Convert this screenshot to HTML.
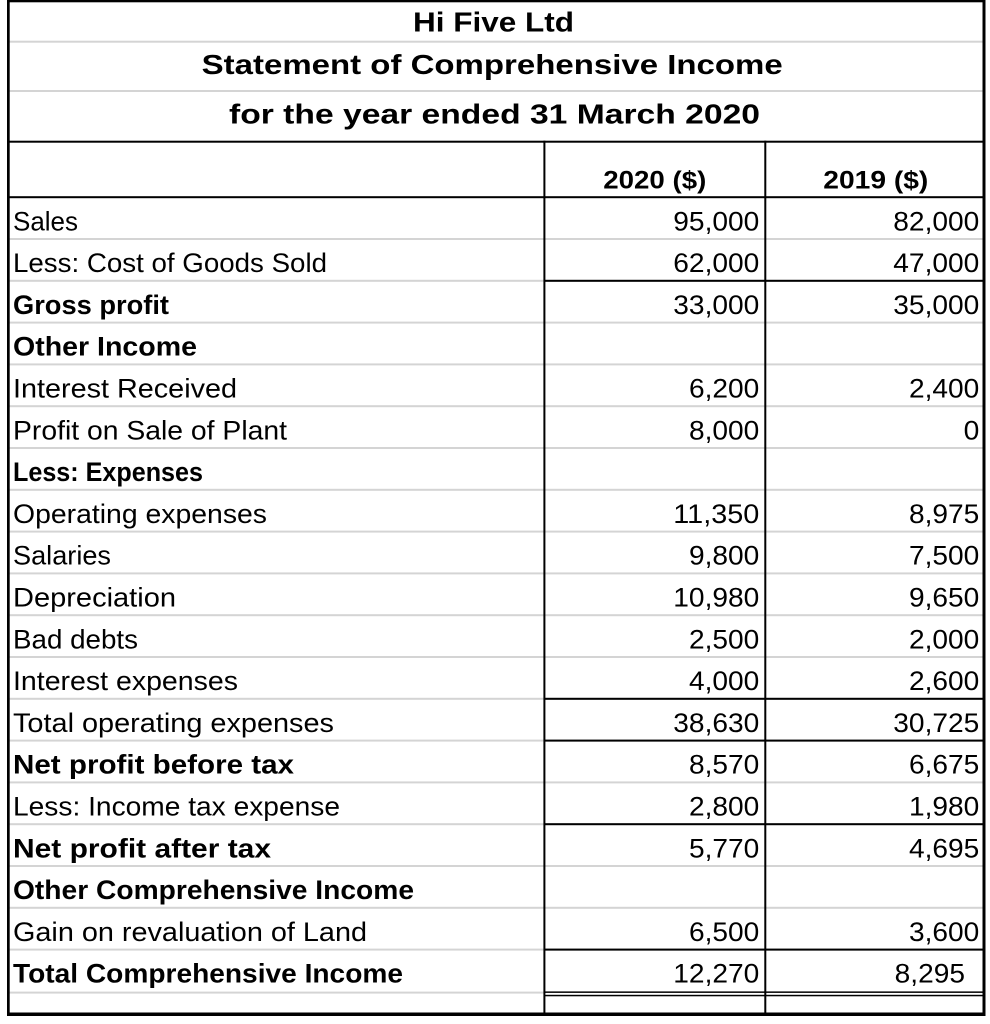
<!DOCTYPE html>
<html>
<head>
<meta charset="utf-8">
<style>
  html,body{margin:0;padding:0;background:#fff;}
  svg{display:block;}
  text{font-family:"Liberation Sans",Arial,sans-serif;fill:#000;}
  .r{font-size:26.5px;}
  .b{font-size:26.5px;font-weight:bold;}
  .t{font-size:28px;font-weight:bold;}
  .h{font-size:25px;font-weight:bold;}
</style>
</head>
<body>
<svg width="990" height="1024" viewBox="0 0 990 1024" xmlns="http://www.w3.org/2000/svg">
  <rect x="0" y="0" width="990" height="1024" fill="#fff"/>

  <!-- title gray gridlines -->
  <rect x="9" y="40.7" width="974" height="2" fill="#d4d4d4"/>
  <rect x="9" y="90" width="974" height="2" fill="#d4d4d4"/>

  <!-- row gray gridlines (k=1..18), y = 197.2 + 41.8k -->
  <g fill="#d4d4d4">
    <rect x="9" y="238.0" width="974" height="2"/>
    <rect x="9" y="279.8" width="974" height="2"/>
    <rect x="9" y="321.6" width="974" height="2"/>
    <rect x="9" y="363.4" width="974" height="2"/>
    <rect x="9" y="405.2" width="974" height="2"/>
    <rect x="9" y="447.0" width="974" height="2"/>
    <rect x="9" y="488.8" width="974" height="2"/>
    <rect x="9" y="530.6" width="974" height="2"/>
    <rect x="9" y="572.4" width="974" height="2"/>
    <rect x="9" y="614.2" width="974" height="2"/>
    <rect x="9" y="656.0" width="974" height="2"/>
    <rect x="9" y="697.8" width="974" height="2"/>
    <rect x="9" y="739.6" width="974" height="2"/>
    <rect x="9" y="781.4" width="974" height="2"/>
    <rect x="9" y="823.2" width="974" height="2"/>
    <rect x="9" y="865.0" width="974" height="2"/>
    <rect x="9" y="906.8" width="974" height="2"/>
    <rect x="9" y="948.6" width="974" height="2"/>
    <rect x="9" y="991.6" width="536" height="2"/>
  </g>

  <!-- black full-width lines -->
  <rect x="8" y="140.7" width="976" height="2" fill="#000"/>
  <rect x="8" y="196.2" width="976" height="2" fill="#000"/>

  <!-- black lines in number columns -->
  <g fill="#000">
    <rect x="544" y="279.8" width="440" height="2"/>
    <rect x="544" y="697.8" width="440" height="2"/>
    <rect x="544" y="739.6" width="440" height="2"/>
    <rect x="544" y="823.2" width="440" height="2"/>
    <rect x="544" y="948.6" width="440" height="2"/>
    <rect x="544" y="991.4" width="440" height="1.5"/>
    <rect x="544" y="994.8" width="440" height="1.5"/>
  </g>

  <!-- vertical column lines -->
  <rect x="543.4" y="140.7" width="2" height="875" fill="#000"/>
  <rect x="764.3" y="140.7" width="2" height="875" fill="#000"/>

  <!-- outer border -->
  <rect x="7" y="0" width="2.7" height="1016" fill="#000"/>
  <rect x="982.5" y="0" width="3" height="1016" fill="#000"/>
  <rect x="7" y="0" width="978.5" height="2.3" fill="#000"/>
  <rect x="7" y="1012.5" width="978.5" height="3.5" fill="#000"/>

  <!-- titles -->
  <text class="t" x="413" y="31.7" textLength="161" lengthAdjust="spacingAndGlyphs">Hi Five Ltd</text>
  <text class="t" x="201.7" y="74" textLength="581" lengthAdjust="spacingAndGlyphs">Statement of Comprehensive Income</text>
  <text class="t" x="229" y="123.5" textLength="531" lengthAdjust="spacingAndGlyphs">for the year ended 31 March 2020</text>

  <!-- header -->
  <text class="h" x="603.3" y="188.3" textLength="103" lengthAdjust="spacingAndGlyphs">2020 ($)</text>
  <text class="h" x="823.3" y="188.3" textLength="105" lengthAdjust="spacingAndGlyphs">2019 ($)</text>

  <!-- labels: baseline = 230.3 + 41.8k -->
  <text class="r" x="13" y="230.3" textLength="65" lengthAdjust="spacingAndGlyphs">Sales</text>
  <text class="r" x="13" y="272.1" textLength="314" lengthAdjust="spacingAndGlyphs">Less: Cost of Goods Sold</text>
  <text class="b" x="13" y="313.9" textLength="156" lengthAdjust="spacingAndGlyphs">Gross profit</text>
  <text class="b" x="13" y="355.7" textLength="184" lengthAdjust="spacingAndGlyphs">Other Income</text>
  <text class="r" x="13" y="397.5" textLength="224" lengthAdjust="spacingAndGlyphs">Interest Received</text>
  <text class="r" x="13" y="439.3" textLength="274" lengthAdjust="spacingAndGlyphs">Profit on Sale of Plant</text>
  <text class="b" x="13" y="481.1" textLength="190" lengthAdjust="spacingAndGlyphs">Less: Expenses</text>
  <text class="r" x="13" y="522.9" textLength="254" lengthAdjust="spacingAndGlyphs">Operating expenses</text>
  <text class="r" x="13" y="564.7" textLength="98" lengthAdjust="spacingAndGlyphs">Salaries</text>
  <text class="r" x="13" y="606.5" textLength="163" lengthAdjust="spacingAndGlyphs">Depreciation</text>
  <text class="r" x="13" y="648.3" textLength="125" lengthAdjust="spacingAndGlyphs">Bad debts</text>
  <text class="r" x="13" y="690.1" textLength="225" lengthAdjust="spacingAndGlyphs">Interest expenses</text>
  <text class="r" x="13" y="731.9" textLength="321" lengthAdjust="spacingAndGlyphs">Total operating expenses</text>
  <text class="b" x="13" y="773.7" textLength="281" lengthAdjust="spacingAndGlyphs">Net profit before tax</text>
  <text class="r" x="13" y="815.5" textLength="327" lengthAdjust="spacingAndGlyphs">Less: Income tax expense</text>
  <text class="b" x="13" y="857.3" textLength="258" lengthAdjust="spacingAndGlyphs">Net profit after tax</text>
  <text class="b" x="13" y="899.1" textLength="401" lengthAdjust="spacingAndGlyphs">Other Comprehensive Income</text>
  <text class="r" x="13" y="940.9" textLength="354" lengthAdjust="spacingAndGlyphs">Gain on revaluation of Land</text>
  <text class="b" x="13" y="982.7" textLength="390" lengthAdjust="spacingAndGlyphs">Total Comprehensive Income</text>

  <!-- 2020 column (right edge 759.3) -->
  <text class="r" x="673.3" y="230.3" textLength="86" lengthAdjust="spacingAndGlyphs">95,000</text>
  <text class="r" x="673.3" y="272.1" textLength="86" lengthAdjust="spacingAndGlyphs">62,000</text>
  <text class="r" x="673.3" y="313.9" textLength="86" lengthAdjust="spacingAndGlyphs">33,000</text>
  <text class="r" x="689" y="397.5" textLength="70.3" lengthAdjust="spacingAndGlyphs">6,200</text>
  <text class="r" x="689" y="439.3" textLength="70.3" lengthAdjust="spacingAndGlyphs">8,000</text>
  <text class="r" x="673.3" y="522.9" textLength="86" lengthAdjust="spacingAndGlyphs">11,350</text>
  <text class="r" x="689" y="564.7" textLength="70.3" lengthAdjust="spacingAndGlyphs">9,800</text>
  <text class="r" x="673.3" y="606.5" textLength="86" lengthAdjust="spacingAndGlyphs">10,980</text>
  <text class="r" x="689" y="648.3" textLength="70.3" lengthAdjust="spacingAndGlyphs">2,500</text>
  <text class="r" x="689" y="690.1" textLength="70.3" lengthAdjust="spacingAndGlyphs">4,000</text>
  <text class="r" x="673.3" y="731.9" textLength="86" lengthAdjust="spacingAndGlyphs">38,630</text>
  <text class="r" x="689" y="773.7" textLength="70.3" lengthAdjust="spacingAndGlyphs">8,570</text>
  <text class="r" x="689" y="815.5" textLength="70.3" lengthAdjust="spacingAndGlyphs">2,800</text>
  <text class="r" x="689" y="857.3" textLength="70.3" lengthAdjust="spacingAndGlyphs">5,770</text>
  <text class="r" x="689" y="940.9" textLength="70.3" lengthAdjust="spacingAndGlyphs">6,500</text>
  <text class="r" x="673.3" y="982.7" textLength="86" lengthAdjust="spacingAndGlyphs">12,270</text>

  <!-- 2019 column (right edge 979.3) -->
  <text class="r" x="893.3" y="230.3" textLength="86" lengthAdjust="spacingAndGlyphs">82,000</text>
  <text class="r" x="893.3" y="272.1" textLength="86" lengthAdjust="spacingAndGlyphs">47,000</text>
  <text class="r" x="893.3" y="313.9" textLength="86" lengthAdjust="spacingAndGlyphs">35,000</text>
  <text class="r" x="909" y="397.5" textLength="70.3" lengthAdjust="spacingAndGlyphs">2,400</text>
  <text class="r" x="963.6" y="439.3" textLength="15.7" lengthAdjust="spacingAndGlyphs">0</text>
  <text class="r" x="909" y="522.9" textLength="70.3" lengthAdjust="spacingAndGlyphs">8,975</text>
  <text class="r" x="909" y="564.7" textLength="70.3" lengthAdjust="spacingAndGlyphs">7,500</text>
  <text class="r" x="909" y="606.5" textLength="70.3" lengthAdjust="spacingAndGlyphs">9,650</text>
  <text class="r" x="909" y="648.3" textLength="70.3" lengthAdjust="spacingAndGlyphs">2,000</text>
  <text class="r" x="909" y="690.1" textLength="70.3" lengthAdjust="spacingAndGlyphs">2,600</text>
  <text class="r" x="893.3" y="731.9" textLength="86" lengthAdjust="spacingAndGlyphs">30,725</text>
  <text class="r" x="909" y="773.7" textLength="70.3" lengthAdjust="spacingAndGlyphs">6,675</text>
  <text class="r" x="909" y="815.5" textLength="70.3" lengthAdjust="spacingAndGlyphs">1,980</text>
  <text class="r" x="909" y="857.3" textLength="70.3" lengthAdjust="spacingAndGlyphs">4,695</text>
  <text class="r" x="909" y="940.9" textLength="70.3" lengthAdjust="spacingAndGlyphs">3,600</text>
  <text class="r" x="894.7" y="982.7" textLength="70.3" lengthAdjust="spacingAndGlyphs">8,295</text>
</svg>
</body>
</html>
